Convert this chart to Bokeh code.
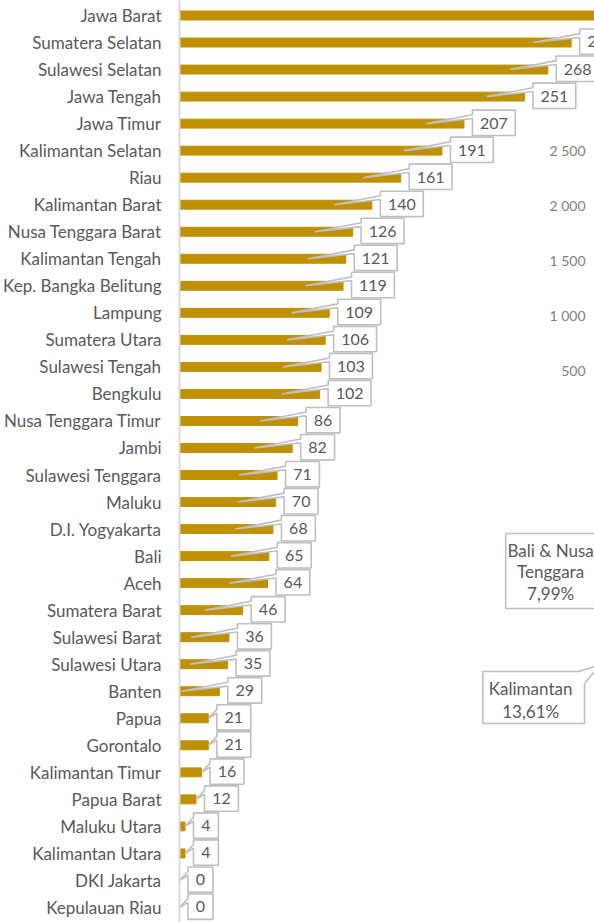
from bokeh.plotting import figure
from bokeh.models import Range1d, FixedTicker
from bokeh.core.properties import value
from bokeh.embed import file_html
from bokeh.resources import INLINE

# ---------------- data ----------------
provinces = ["Jawa Barat", "Sumatera Selatan", "Sulawesi Selatan", "Jawa Tengah",
             "Jawa Timur", "Kalimantan Selatan", "Riau", "Kalimantan Barat",
             "Nusa Tenggara Barat", "Kalimantan Tengah", "Kep. Bangka Belitung",
             "Lampung", "Sumatera Utara", "Sulawesi Tengah", "Bengkulu",
             "Nusa Tenggara Timur", "Jambi", "Sulawesi Tenggara", "Maluku",
             "D.I. Yogyakarta", "Bali", "Aceh", "Sumatera Barat", "Sulawesi Barat",
             "Sulawesi Utara", "Banten", "Papua", "Gorontalo", "Kalimantan Timur",
             "Papua Barat", "Maluku Utara", "Kalimantan Utara", "DKI Jakarta",
             "Kepulauan Riau"]
counts = [330, 285, 268, 251, 207, 191, 161, 140, 126, 121, 119, 109, 106, 103,
          102, 86, 82, 71, 70, 68, 65, 64, 46, 36, 35, 29, 21, 21, 16, 12, 4, 4, 0, 0]

# fragment of a neighbouring chart's value axis (right side)
right_ticks = [2500, 2000, 1500, 1000, 500]
right_tick_labels = ["2 500", "2 000", "1 500", "1 000", "500"]

# fragments of neighbouring pie-chart callouts
pie_labels = [["Bali & Nusa", "Tenggara", "7,99%"], ["Kalimantan", "13,61%"]]

# ---------------- layout constants ----------------
W, H = 594, 922
LEFT = 178
PX = 1.3775                      # px per unit
X_END = (W - LEFT) / PX
ROW = 27.03                      # px per row
Y_TOP = -15 / ROW
Y_BOT = (H - 15) / ROW

TEXT = "#595959"
GOLD = "#BF9000"
EDGE = "#BFBFBF"
FONT = "Lato"

n = len(provinces)
idx = list(range(n))

p = figure(width=W, height=H, output_backend="svg", toolbar_location=None,
           x_range=Range1d(0, X_END), y_range=Range1d(Y_BOT, Y_TOP),
           min_border=0, min_border_left=LEFT)
p.outline_line_color = None
p.xgrid.visible = False
p.ygrid.visible = False
p.xaxis.visible = False

ax = p.yaxis[0]
ax.ticker = FixedTicker(ticks=idx)
ax.major_label_overrides = {i: provinces[i] for i in idx}
ax.major_tick_line_color = None
ax.minor_tick_line_color = None
ax.major_tick_out = 0
ax.major_tick_in = 0
ax.minor_tick_out = 0
ax.minor_tick_in = 0
ax.axis_line_color = "#D9D9D9"
ax.axis_line_width = 2
ax.major_label_text_font = FONT
ax.major_label_text_font_size = "17px"
ax.major_label_text_color = TEXT
ax.major_label_standoff = 18

# bars
p.hbar(y=idx, left=0, right=counts, height=0.33, color=GOLD)

# data callouts
gap = 8.5 / PX
tip_off = 38 / PX
xs, ys, tx, ty, tl = [], [], [], [], []
for i, v in enumerate(counts):
    label = str(v)
    w = (16 + 9 * len(label)) / PX
    L = v + gap
    R = L + w
    top, bot = i - 0.5, i + 0.44
    tip = v - tip_off if v - tip_off >= 0 else v
    xs.append([L, R, R, L, L, tip, L])
    ys.append([top, top, bot, bot, i - 0.19, i, i - 0.33])
    tx.append((L + R) / 2)
    ty.append(i - 0.02)
    tl.append(label)
p.patches(xs=xs, ys=ys, fill_color="white", line_color=EDGE, line_width=1.6)
p.text(x=tx, y=ty, text=tl, text_align="center", text_baseline="middle",
       text_font=value(FONT), text_font_size="16px", text_color=TEXT)

# right axis fragment
def ry(s):  # screen y -> right-axis value
    return (425 - s) / 0.11
p.extra_y_ranges = {"r": Range1d(ry(H), ry(0))}

def dx(s):  # screen x -> data x
    return (s - LEFT) / PX
def dy(s):  # screen y -> row coordinate
    return (s - 15) / ROW

p.text(x=[dx(585)] * len(right_ticks), y=right_ticks, text=right_tick_labels,
       y_range_name="r", text_align="right", text_baseline="middle",
       text_font=value(FONT), text_font_size="14px", text_color="#7F7F7F")

# pie callout fragments
p.patches(xs=[[dx(505), dx(605), dx(605), dx(505)],
              [dx(482), dx(578), dx(600), dx(584), dx(584), dx(482)]],
          ys=[[dy(533), dy(533), dy(608), dy(608)],
              [dy(671), dy(671), dy(664), dy(683), dy(723), dy(723)]],
          fill_color="white", line_color=EDGE, line_width=1.6)
p.text(x=[dx(550)] * 3, y=[dy(550), dy(571), dy(593)], text=pie_labels[0],
       text_align="center", text_baseline="middle",
       text_font=value(FONT), text_font_size="17px", text_color=TEXT)
p.text(x=[dx(530)] * 2, y=[dy(688), dy(711)], text=pie_labels[1],
       text_align="center", text_baseline="middle",
       text_font=value(FONT), text_font_size="17px", text_color=TEXT)

open("out.html", "w").write(file_html(p, INLINE))
